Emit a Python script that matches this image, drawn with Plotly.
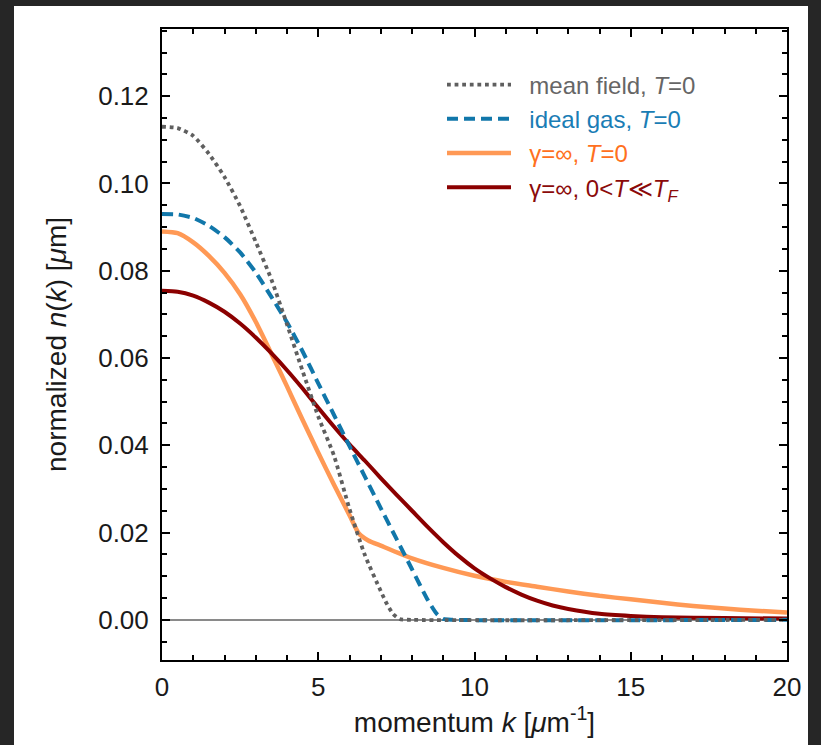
import plotly.graph_objects as go

# ---- data ----
k_mf = [0, 0.5, 1.0, 1.5, 2.0, 2.5, 3.0, 3.5, 4.0, 4.5, 5.0, 5.5, 6.0, 6.5, 7.0, 7.2, 7.4, 7.6, 8.0, 20]
n_mf = [0.1130, 0.1127, 0.1109, 0.1068, 0.1015, 0.0948, 0.0866, 0.0780, 0.0677, 0.0570, 0.0466, 0.0377, 0.0254, 0.0147, 0.0066, 0.0036, 0.0013, 0.0002, 0.0, 0.0]

k_ig = [0, 0.5, 1.0, 1.5, 2.0, 2.5, 3.0, 3.5, 4.0, 4.5, 5.0, 5.5, 6.0, 6.5, 7.0, 7.5, 8.0, 8.5, 8.8, 9.0, 9.3, 20]
n_ig = [0.0930, 0.0929, 0.0921, 0.0903, 0.0877, 0.0842, 0.0796, 0.0740, 0.0682, 0.0615, 0.0542, 0.0470, 0.0398, 0.0327, 0.0256, 0.0186, 0.0116, 0.0046, 0.0013, 0.0002, 0.0, 0.0]

k_tg = [0, 0.5, 1.0, 1.5, 2.0, 2.5, 3.0, 3.5, 4.0, 4.5, 5.0, 5.5, 6.0, 6.3, 6.6, 7.0, 8.0, 9.0, 10.0, 11.0, 12.0, 13.0, 14.0, 15.0, 16.0, 17.0, 18.0, 19.0, 20.0]
n_tg = [0.0890, 0.0886, 0.0865, 0.0834, 0.0795, 0.0746, 0.0683, 0.0610, 0.0535, 0.0458, 0.0383, 0.0310, 0.0240, 0.0198, 0.0182, 0.0170, 0.0141, 0.0119, 0.0101, 0.0087, 0.0076, 0.0065, 0.0055, 0.0047, 0.0039, 0.0032, 0.0026, 0.0021, 0.0017]

k_tf = [0, 0.5, 1.0, 1.5, 2.0, 2.5, 3.0, 3.5, 4.0, 4.5, 5.0, 5.5, 6.0, 6.5, 7.0, 7.5, 8.0, 8.5, 9.0, 9.5, 10.0, 10.5, 11.0, 11.5, 12.0, 12.5, 13.0, 14.0, 15.0, 16.0, 18.0, 20.0]
n_tf = [0.0754, 0.0752, 0.0743, 0.0727, 0.0706, 0.0679, 0.0647, 0.0611, 0.0572, 0.0530, 0.0486, 0.0443, 0.0402, 0.0364, 0.0325, 0.0287, 0.0250, 0.0213, 0.0178, 0.0146, 0.0118, 0.0095, 0.0075, 0.0058, 0.0044, 0.0033, 0.0025, 0.0014, 0.0009, 0.0006, 0.0004, 0.0003]

x_ticks = [0, 5, 10, 15, 20]
y_ticks = [0.00, 0.02, 0.04, 0.06, 0.08, 0.10, 0.12]

SP = "\u00a0\u00a0"
names = [
    SP + '<span style="color:#666666">mean field, <i>T</i>=0</span>',
    SP + '<span style="color:#1a7db5">ideal gas, <i>T</i>=0</span>',
    SP + '<span style="color:#ff7020">γ=∞, <i>T</i>=0</span>',
    SP + '<span style="color:#8b0a0a">γ=∞, 0&lt;<i>T</i>≪<i>T</i><sub><i>F</i></sub></span>',
]

FONT = "Liberation Sans, Arial, Helvetica, sans-serif"

fig = go.Figure()
fig.add_trace(go.Scatter(x=k_tg, y=n_tg, mode="lines", name=names[2], legendrank=3,
                         line=dict(color="#ff9955", width=4.5, shape="spline", smoothing=0.6)))
fig.add_trace(go.Scatter(x=k_tf, y=n_tf, mode="lines", name=names[3], legendrank=4,
                         line=dict(color="#8b0000", width=4, shape="spline", smoothing=0.6)))
fig.add_trace(go.Scatter(x=k_ig, y=n_ig, mode="lines", name=names[1], legendrank=2,
                         line=dict(color="#1177aa", width=4, dash="11px,6px", shape="spline", smoothing=0.6)))
fig.add_trace(go.Scatter(x=k_mf, y=n_mf, mode="lines", name=names[0], legendrank=1,
                         line=dict(color="#5f5f5f", width=3.8, dash="dot", shape="spline", smoothing=0.6)))

axis_common = dict(
    showline=True, linecolor="black", linewidth=2, mirror="allticks",
    ticks="inside", ticklen=8, tickwidth=1.5, tickcolor="black",
    showgrid=False, tickfont=dict(family=FONT, size=26, color="#1a1a1a"),
)

fig.update_xaxes(
    range=[0, 20], tickvals=x_ticks, ticktext=[str(v) for v in x_ticks],
    minor=dict(ticks="inside", dtick=1, ticklen=5, tickwidth=1.5, tickcolor="black"),
    zeroline=False, ticklabelstandoff=3,
    title=dict(text="momentum <i>k</i> [<i>μ</i>m<sup>-1</sup>]",
               font=dict(family=FONT, size=28, color="#1a1a1a"), standoff=4),
    **axis_common,
)
fig.update_yaxes(
    range=[-0.0092, 0.1354], tickvals=y_ticks, ticktext=[f"{v:.2f}" for v in y_ticks],
    minor=dict(ticks="inside", dtick=0.005, tick0=0, ticklen=5, tickwidth=1.5, tickcolor="black"),
    zeroline=True, zerolinecolor="#8a8a8a", zerolinewidth=1.5,
    title=dict(text="normalized <i>n</i>(<i>k</i>) [<i>μ</i>m]",
               font=dict(family=FONT, size=28, color="#1a1a1a"), standoff=23),
    ticklabelstandoff=6,
    **axis_common,
)

fig.update_layout(
    width=821, height=745, autosize=False,
    margin=dict(l=162, r=34, t=29, b=85, pad=0),
    paper_bgcolor="#262626", plot_bgcolor="white",
    showlegend=True,
    legend=dict(x=0.448, y=0.947, xanchor="left", yanchor="top",
                bgcolor="rgba(0,0,0,0)", borderwidth=0,
                font=dict(family=FONT, size=24), itemwidth=64,
                tracegroupgap=0),
    shapes=[dict(type="rect", xref="paper", yref="paper",
                 x0=(14 - 162) / 625, x1=(808 - 162) / 625,
                 y0=(660 - 745) / 631, y1=(660 - 6) / 631,
                 fillcolor="white", line=dict(width=0), layer="below")],
)

fig.write_html("out.html", config={"displayModeBar": False},
               post_script="document.body.style.margin='0';document.body.style.background='#262626';")
